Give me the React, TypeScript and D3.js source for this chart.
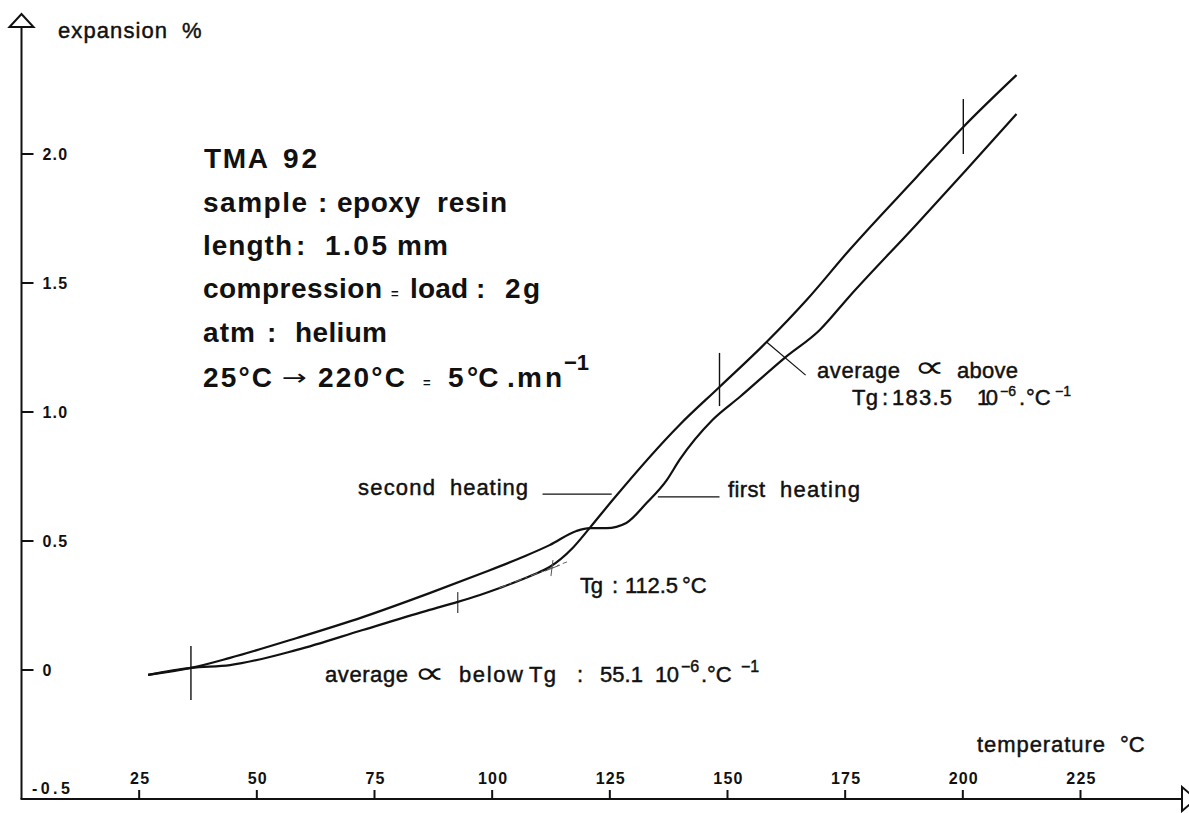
import * as d3 from 'd3'

const W = 1189
const H = 813

// trace: temperature (°C) and expansion (%)
const firstHeatingT = [26.9, 36.0, 44.3, 58.5, 72.5, 86.7, 97.4, 106.5, 112.2, 117.9, 120.7, 124.3, 128.5, 132.8, 137.1, 139.8, 146.8, 152.6, 162.1, 169.6, 175.9, 190.2, 200.8, 211.4]
const firstHeatingV = [-0.019, 0.008, 0.047, 0.124, 0.205, 0.298, 0.372, 0.438, 0.484, 0.539, 0.55, 0.55, 0.57, 0.647, 0.736, 0.814, 0.969, 1.058, 1.209, 1.318, 1.448, 1.728, 1.94, 2.155]

const secondHeatingT = [26.9, 36.0, 44.3, 58.5, 72.5, 86.7, 92.7, 97.4, 101.6, 108.6, 112.2, 117.1, 120.7, 125.6, 139.8, 148.3, 158.3, 166.8, 175.9, 190.2, 200.1, 211.4]
const secondHeatingV = [-0.019, 0.008, 0.019, 0.078, 0.155, 0.233, 0.264, 0.291, 0.318, 0.368, 0.399, 0.473, 0.55, 0.659, 0.95, 1.097, 1.271, 1.434, 1.628, 1.911, 2.105, 2.306]

// vertical reference strokes drawn across the traces
const markerT = [36.0, 92.7, 148.3, 200.1]
const markerLo = [-0.116, 0.221, 1.023, 2.0]
const markerHi = [0.093, 0.302, 1.229, 2.213]

// Tg construction (tangent + cross)
const tgT = 112.7
const tgV = 0.395
const tangentT = [101.5, 115.9]
const tangentV = [0.318, 0.419]

const xTicks = [25, 50, 75, 100, 125, 150, 175, 200, 225]
const yTicks = [0, 0.5, 1.0, 1.5, 2.0]
const yTickLabels = ['0', '0.5', '1.0', '1.5', '2.0']

const FONT = '"Liberation Sans", Arial, Helvetica, "DejaVu Sans", sans-serif'
const SYM = '"DejaVu Sans", sans-serif'

// t: text, x: left, w: width it takes in the print, dy: shift from baseline
type Seg = { t: string; x: number; w?: number; dy?: number; fs?: number; fw?: string | number; sym?: boolean }

function Label({ y, segs, fs = 22, fw = 'normal', thick = 0.45 }: { y: number; segs: Seg[]; fs?: number; fw?: string | number; thick?: number }) {
  return (
    <g>
      {segs.map((s, i) => (
        <text
          key={i}
          x={s.x}
          y={y + (s.dy || 0)}
          fontFamily={s.sym ? SYM : FONT}
          fontSize={s.fs || fs}
          fontWeight={s.fw || fw}
          fill="#111"
          stroke="#111"
          strokeWidth={s.sym ? 0 : thick}
          textLength={s.w}
          lengthAdjust={s.sym ? 'spacingAndGlyphs' : 'spacing'}
        >
          {s.t}
        </text>
      ))}
    </g>
  )
}

export default function App() {
  const x = d3.scaleLinear().domain([0, 225]).range([21.5, 1080.5])
  const y = d3.scaleLinear().domain([-0.5, 2.0]).range([799, 154])

  const line = d3
    .line<[number, number]>()
    .x((d) => x(d[0]))
    .y((d) => y(d[1]))
    .curve(d3.curveMonotoneX)

  const first = firstHeatingT.map((t, i) => [t, firstHeatingV[i]] as [number, number])
  const second = secondHeatingT.map((t, i) => [t, secondHeatingV[i]] as [number, number])

  const x0 = x(0)
  const yBase = y(-0.5)
  const ink = '#111'
  const tickText = { fontFamily: FONT, fontSize: 16, fontWeight: 'bold', fill: ink, letterSpacing: 1.2 }

  return (
    <svg width={W} height={H} style={{ position: 'absolute', left: 0, top: 0, background: '#fff' }}>
      {/* axes */}
      <line x1={x0} y1={yBase} x2={x0} y2={27} stroke={ink} strokeWidth={2} />
      <path d={`M${x0 - 12},27 L${x0},14 L${x0 + 12},27 Z`} fill="#fff" stroke={ink} strokeWidth={2} />
      <line x1={x0 - 1} y1={yBase} x2={1182} y2={yBase} stroke={ink} strokeWidth={2} />
      <path d={`M1182,${yBase - 12} L1196,${yBase} L1182,${yBase + 12} Z`} fill="#fff" stroke={ink} strokeWidth={2} />

      {yTicks.map((v, i) => (
        <g key={v}>
          <line x1={x0} x2={x0 + 12} y1={y(v)} y2={y(v)} stroke={ink} strokeWidth={2} />
          <text x={x0 + 21} y={y(v) + 6} {...tickText}>
            {yTickLabels[i]}
          </text>
        </g>
      ))}
      <text x={32} y={794} {...tickText} textLength={39} lengthAdjust="spacing">
        -0.5
      </text>

      {xTicks.map((t) => (
        <g key={t}>
          <line x1={x(t)} x2={x(t)} y1={yBase} y2={yBase - 9} stroke={ink} strokeWidth={2} />
          <text x={x(t) + 1} y={784} textAnchor="middle" {...tickText}>
            {t}
          </text>
        </g>
      ))}

      <Label y={38} segs={[{ t: 'expansion', x: 58, w: 109 }, { t: '%', x: 182, w: 20 }]} />
      <Label y={752} segs={[{ t: 'temperature', x: 977, w: 128 }, { t: '°C', x: 1120 }]} />

      {/* traces */}
      <path d={line(first) || ''} fill="none" stroke={ink} strokeWidth={2.2} strokeLinejoin="round" />
      <path d={line(second) || ''} fill="none" stroke={ink} strokeWidth={2.2} strokeLinejoin="round" />

      {markerT.map((t, i) => (
        <line key={t} x1={x(t)} x2={x(t)} y1={y(markerLo[i])} y2={y(markerHi[i])} stroke={ink} strokeWidth={i === 1 ? 1 : 1.4} />
      ))}

      {/* Tg construction */}
      <line
        x1={x(tangentT[0])}
        y1={y(tangentV[0])}
        x2={x(tangentT[1])}
        y2={y(tangentV[1])}
        stroke="#666"
        strokeWidth={1}
        strokeDasharray="7 4 2 4"
      />
      <line x1={x(tgT) - 7} y1={y(tgV) + 3} x2={x(tgT) + 8} y2={y(tgV) - 3} stroke="#555" strokeWidth={1} />
      <line x1={x(tgT) - 1} y1={y(tgV) + 8} x2={x(tgT) + 1} y2={y(tgV) - 8} stroke="#555" strokeWidth={1} />

      {/* leaders */}
      <line x1={x(110.7)} x2={x(125.4)} y1={y(0.682)} y2={y(0.682)} stroke={ink} strokeWidth={1.2} />
      <line x1={x(135.2)} x2={x(148.3)} y1={y(0.671)} y2={y(0.671)} stroke={ink} strokeWidth={1.2} />
      <line x1={x(158.3)} y1={y(1.271)} x2={x(166.6)} y2={y(1.143)} stroke={ink} strokeWidth={1.2} />

      {/* annotations */}
      <Label y={495} segs={[{ t: 'second', x: 358, w: 77 }, { t: 'heating', x: 450, w: 78 }]} />
      <Label y={497} segs={[{ t: 'first', x: 728, w: 37 }, { t: 'heating', x: 780, w: 80 }]} />
      <Label
        y={593}
        segs={[
          { t: 'Tg', x: 580, w: 23 },
          { t: ':', x: 612 },
          { t: '112.5', x: 625, w: 53 },
          { t: '°C', x: 682 }
        ]}
      />
      <Label
        y={682}
        segs={[
          { t: 'average', x: 325, w: 83 },
          { t: '∝', x: 414, w: 31, fs: 30, sym: true, dy: 1 },
          { t: 'below', x: 459, w: 64 },
          { t: 'Tg', x: 529, w: 27 },
          { t: ':', x: 577 },
          { t: '55.1', x: 600, w: 43 },
          { t: '10', x: 655, w: 24 },
          { t: '−6', x: 681, dy: -10, fs: 16 },
          { t: '.', x: 701 },
          { t: '°C', x: 707 },
          { t: '−1', x: 741, dy: -10, fs: 16 }
        ]}
      />
      <Label
        y={378}
        segs={[
          { t: 'average', x: 817, w: 83 },
          { t: '∝', x: 914, w: 31, fs: 30, sym: true, dy: -1 },
          { t: 'above', x: 957, w: 61 }
        ]}
      />
      <Label
        y={405}
        segs={[
          { t: 'Tg', x: 852, w: 26 },
          { t: ':', x: 882 },
          { t: '183.5', x: 892, w: 60 },
          { t: '10', x: 977, w: 21 },
          { t: '−6', x: 1000, dy: -9, fs: 14 },
          { t: '.', x: 1019 },
          { t: '°C', x: 1026 },
          { t: '−1', x: 1055, dy: -9, fs: 14 }
        ]}
      />

      {/* info block */}
      <Label y={168} fs={28} fw="bold" thick={0} segs={[{ t: 'TMA', x: 204, w: 64 }, { t: '92', x: 283, w: 34 }]} />
      <Label
        y={212}
        fs={28}
        fw="bold"
        thick={0}
        segs={[
          { t: 'sample', x: 203, w: 104 },
          { t: ':', x: 318 },
          { t: 'epoxy', x: 337, w: 83 },
          { t: 'resin', x: 437, w: 70 }
        ]}
      />
      <Label
        y={255}
        fs={28}
        fw="bold"
        thick={0}
        segs={[
          { t: 'length', x: 203, w: 89 },
          { t: ':', x: 296 },
          { t: '1.05', x: 325, w: 62 },
          { t: 'mm', x: 397, w: 51 }
        ]}
      />
      <Label
        y={298}
        fs={28}
        fw="bold"
        thick={0}
        segs={[
          { t: 'compression', x: 203, w: 179 },
          { t: '=', x: 391, fs: 13 },
          { t: 'load', x: 410, w: 58 },
          { t: ':', x: 476 },
          { t: '2', x: 505 },
          { t: 'g', x: 523 }
        ]}
      />
      <Label
        y={342}
        fs={28}
        fw="bold"
        thick={0}
        segs={[
          { t: 'atm', x: 203, w: 52 },
          { t: ':', x: 267 },
          { t: 'helium', x: 295, w: 92 }
        ]}
      />
      <Label
        y={387}
        fs={28}
        fw="bold"
        thick={0}
        segs={[
          { t: '25°C', x: 203, w: 69 },
          { t: '→', x: 282, w: 25, fs: 22, fw: 'normal', sym: true, dy: -2 },
          { t: '220°C', x: 318, w: 87 },
          { t: '=', x: 423, fs: 13 },
          { t: '5', x: 448 },
          { t: '°C', x: 467 },
          { t: '.', x: 507 },
          { t: 'mn', x: 517, w: 45 },
          { t: '−1', x: 564, dy: -17, fs: 22 }
        ]}
      />
    </svg>
  )
}
